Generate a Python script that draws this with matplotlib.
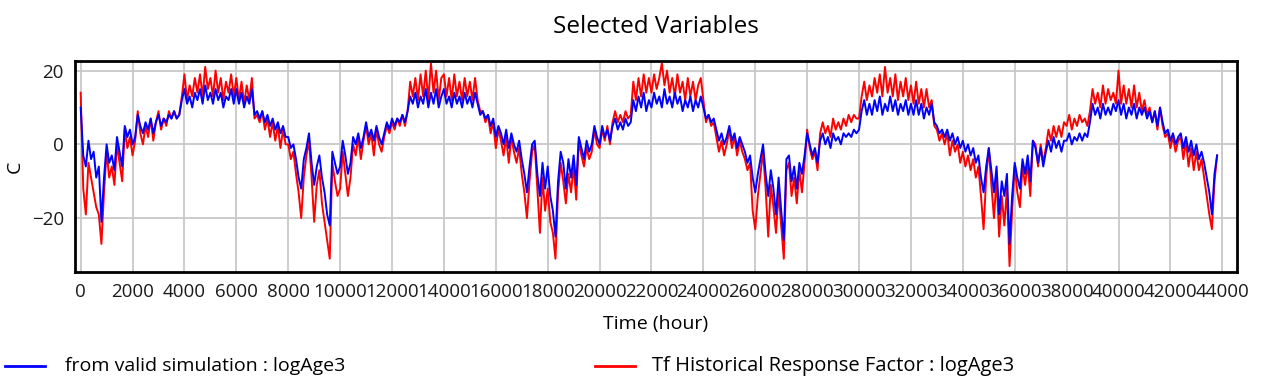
import numpy as np
import matplotlib
matplotlib.use("Agg")
import matplotlib.pyplot as plt
from matplotlib.lines import Line2D

plt.rcParams['font.family'] = ['Open Sans', 'DejaVu Sans']

# hours, one reading every 100 h
step = 100
hours = np.arange(0, 43801, step)

# from valid simulation : logAge3 (blue), one row = 2000 h
blue = [
    10, -3, -6, 1, -4, -2, -9, -6, -21, -9, 0, -5, -3, -7, 2, -2, -6, 5, 2, 4,
    0, 2, 8, 5, 3, 6, 4, 7, 3, 6, 8, 5, 7, 6, 8, 7, 9, 7, 8, 12,
    15, 11, 13, 10, 14, 12, 15, 11, 16, 12, 14, 11, 15, 12, 14, 10, 13, 12, 15, 11,
    15, 11, 14, 10, 13, 11, 15, 8, 9, 7, 9, 6, 8, 5, 7, 4, 6, 3, 5, 2,
    2, -1, 0, -4, -9, -12, -4, -1, 3, -5, -11, -6, -3, -9, -13, -19, -22, -2, -5, -8,
    -6, 1, -3, -8, -5, 2, 0, 3, -1, 2, 6, 2, 4, 1, 5, 2, 0, 3, 6, 4,
    7, 5, 7, 6, 8, 6, 9, 13, 11, 14, 10, 13, 11, 15, 10, 14, 11, 15, 10, 13,
    15, 11, 13, 10, 14, 11, 13, 10, 14, 11, 13, 10, 14, 11, 8, 9, 7, 8, 5, 7,
    2, 5, 3, 0, 4, -1, 3, 0, -2, 1, -4, -8, -13, -6, 0, 1, -8, -14, -5, -12,
    -6, -14, -18, -25, -10, -2, -5, -12, -4, -9, -3, -11, 2, -1, -4, 1, -2, 0, 5, 2,
    0, 5, 2, 4, 1, 5, 7, 4, 6, 4, 7, 5, 6, 12, 9, 13, 10, 14, 9, 12,
    10, 14, 11, 13, 10, 15, 11, 13, 10, 14, 11, 13, 9, 12, 10, 13, 9, 12, 10, 13,
    10, 7, 8, 6, 7, 4, 1, 3, 0, 2, 5, 1, 3, -1, 2, 0, -2, -5, -3, -9,
    -13, -8, -4, 0, -8, -14, -7, -12, -19, -9, -18, -26, -4, -3, -10, -6, -12, -5, -8, -3,
    3, 0, -3, -1, -5, 1, 3, 0, 2, -1, 3, 1, 2, 0, 3, 2, 3, 2, 4, 3,
    4, 9, 12, 8, 11, 8, 12, 9, 13, 8, 11, 9, 13, 9, 12, 8, 11, 9, 12, 8,
    11, 8, 12, 8, 11, 7, 10, 8, 11, 6, 5, 3, 4, 2, 4, 1, 3, 0, 2, -1,
    1, -2, 0, -3, -1, -5, -3, -9, -13, -6, -1, -7, -13, -6, -19, -10, -14, -8, -27, -14,
    -5, -9, -12, -4, -8, -3, -10, 1, -1, -5, -1, -6, -2, 1, -2, 2, -1, 1, -2, 1,
    1, 3, 0, 2, 1, 3, 1, 3, 2, 6, 11, 8, 10, 7, 11, 8, 10, 8, 11, 9,
    12, 8, 11, 7, 10, 8, 11, 7, 10, 8, 10, 7, 9, 6, 9, 5, 10, 6, 3, 4,
    1, 3, 0, 2, 3, -1, 2, -2, 1, -3, 0, -4, -2, -5, -9, -13, -19, -8, -3,
]

# Tf Historical Response Factor : logAge3 (red)
red = [
    14, -12, -19, -5, -9, -13, -17, -19, -27, -13, -2, -9, -6, -11, 0, -5, -10, 4, -1, 2,
    -3, 1, 9, 3, 0, 5, 2, 7, 1, 6, 9, 4, 7, 5, 9, 7, 9, 7, 8, 13,
    19, 12, 16, 13, 18, 14, 19, 13, 21, 15, 18, 13, 20, 14, 18, 12, 17, 14, 19, 13,
    18, 12, 17, 11, 16, 12, 18, 7, 8, 6, 9, 4, 7, 2, 6, 1, 5, -1, 4, 0,
    0, -4, -2, -8, -13, -20, -9, -3, 1, -9, -21, -11, -7, -16, -21, -26, -31, -5, -10, -14,
    -12, -2, -8, -14, -9, 0, -3, 2, -4, 1, 5, 0, 3, -3, 4, 0, -2, 2, 5, 3,
    6, 4, 7, 5, 8, 5, 9, 17, 13, 18, 12, 19, 13, 20, 12, 22, 14, 20, 12, 18,
    19, 13, 18, 12, 19, 13, 17, 12, 18, 13, 17, 12, 18, 12, 9, 9, 6, 8, 3, 6,
    -1, 4, 1, -3, 2, -5, 2, -2, -5, -1, -8, -13, -20, -10, -2, 0, -12, -24, -9, -18,
    -12, -21, -24, -31, -13, -5, -10, -16, -8, -13, -6, -15, 1, -3, -6, -1, -4, -2, 4, 0,
    -1, 4, 1, 5, 0, 6, 9, 6, 8, 6, 9, 7, 8, 17, 12, 18, 13, 19, 14, 18,
    14, 19, 15, 18, 22, 16, 20, 14, 18, 13, 19, 14, 17, 12, 18, 13, 17, 12, 16, 18,
    12, 6, 8, 5, 6, 2, -2, 1, -3, 0, 4, -1, 2, -3, 1, -2, -4, -7, -5, -18,
    -23, -14, -8, -2, -12, -25, -11, -17, -24, -13, -22, -31, -7, -5, -14, -9, -16, -7, -13, -5,
    4, -1, -4, -2, -7, 3, 6, 3, 5, 2, 7, 4, 6, 4, 7, 5, 8, 6, 8, 7,
    7, 13, 17, 12, 16, 13, 18, 14, 19, 13, 21, 14, 18, 13, 19, 12, 17, 13, 18, 12,
    16, 11, 17, 11, 15, 10, 15, 10, 12, 5, 4, 1, 3, 0, 3, -3, 1, -2, 0, -5,
    -2, -6, -3, -7, -4, -9, -6, -14, -23, -9, -1, -11, -20, -9, -25, -14, -22, -12, -33, -18,
    -6, -13, -17, -6, -11, -5, -14, 1, 0, -6, 0, -5, -1, 4, 1, 5, 2, 5, 2, 6,
    5, 8, 4, 7, 5, 8, 6, 7, 5, 9, 15, 11, 14, 10, 16, 11, 15, 12, 14, 11,
    20, 11, 16, 11, 15, 10, 16, 10, 14, 9, 12, 8, 10, 6, 9, 4, 10, 5, 2, 3,
    -1, 2, -2, 1, 2, -4, 1, -6, -1, -7, -2, -7, -4, -9, -14, -19, -23, -10, -3,
]

fig = plt.figure(figsize=(12.64, 3.84), dpi=100)
ax = fig.add_axes([0.0593, 0.2917, 0.9194, 0.5494])

ax.plot(hours, red, color='#ff0000', lw=1.4)
ax.plot(hours, blue, color='#0000ff', lw=1.4)

ax.set_xlim(-220, 44570)
ax.set_ylim(-34.6, 22.6)
ax.set_xticks(np.arange(0, 44001, 2000))
ax.set_yticks([-20, 0, 20])
ax.tick_params(length=0, labelsize=13.5, pad=8, colors='#1a1a1a')
ax.grid(True, color='#c8c8c8', lw=1.3)
ax.set_axisbelow(True)
for s in ax.spines.values():
    s.set_linewidth(2)
    s.set_color('black')

ax.set_title('Selected Variables', fontsize=17.5, pad=20)
ax.set_xlabel('Time (hour)', fontsize=14, labelpad=10)
ax.set_ylabel('C', fontsize=14, labelpad=6)

# legend drawn along the bottom
fig.add_artist(Line2D([5/1264, 45/1264], [18/384, 18/384], color='#0000ff', lw=2))
fig.text(65/1264, 18/384, 'from valid simulation : logAge3', fontsize=14, va='center')
fig.add_artist(Line2D([595/1264, 635/1264], [18/384, 18/384], color='#ff0000', lw=2))
fig.text(652/1264, 18/384, 'Tf Historical Response Factor : logAge3', fontsize=14.5, va='center')

fig.savefig('out.png', dpi=100)
